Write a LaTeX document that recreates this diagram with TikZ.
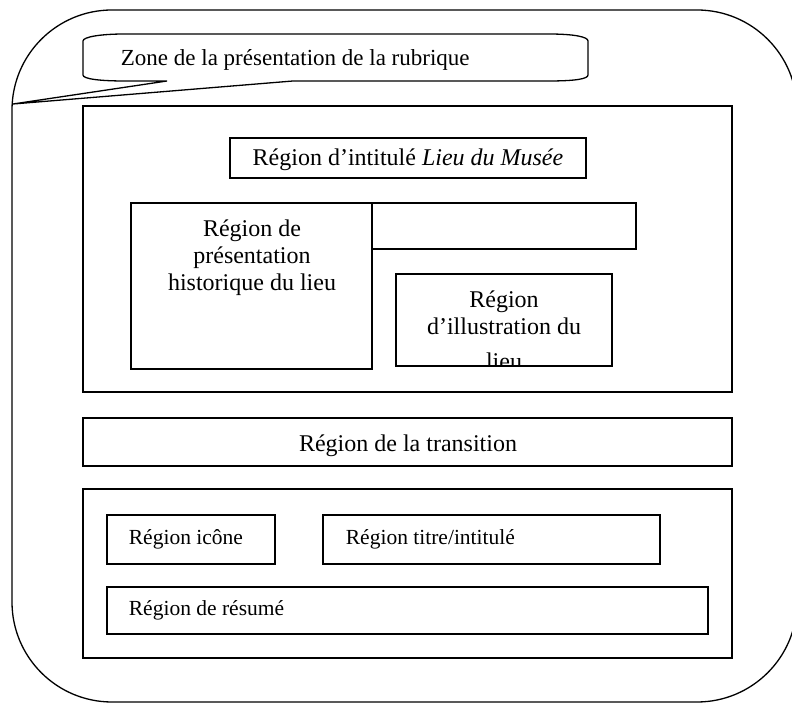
\documentclass[tikz,border=0pt]{standalone}
\usepackage{fontspec}
\setmainfont{Liberation Serif}
\usetikzlibrary{positioning}

\begin{document}
\begin{tikzpicture}[x=0.5pt, y=-0.5pt, line width=0.9pt,
    regionbox/.style={draw, line width=0.95pt},
    grandtexte/.style={inner sep=0pt, font=\fontsize{12}{13.5}\selectfont},
    petittexte/.style={inner sep=0pt, font=\fontsize{10.75}{12}\selectfont}]
  \useasboundingbox (0,0) rectangle (792,704);
  % cadre arrondi de la page
  \draw[line width=0.65pt, rounded corners=50pt] (12,10) rectangle (797,702);
  % bulle de la zone de presentation
  \draw[line width=0.65pt] (83,41) -- (83,75) .. controls (83,79) and (100,81) .. (125,81)
    -- (167,81) -- (13,104) -- (293,81) -- (548,81) .. controls (575,81) and (588,79) .. (588,75)
    -- (588,41) .. controls (588,37) and (575,34) .. (548,34) -- (125,34)
    .. controls (100,34) and (83,37) .. (83,41) -- cycle;
  \node[petittexte, font=\fontsize{11.5}{13}\selectfont, anchor=base west] (zone) at (120,66)
    {Zone de la présentation de la rubrique};

  % region du lieu
  \draw[regionbox] (83,106) rectangle (732,392);
  \draw[regionbox] (230,138) rectangle (586,178);
  \node[grandtexte, anchor=base] (intitule) at (408,166) {Région d’intitulé \textit{Lieu du Musée}};
  \draw[regionbox] (131,203) rectangle (372,369);
  \draw[regionbox] (372,203) rectangle (636,249);
  \node[grandtexte, anchor=base] (histo1) at (252,237) {Région de};
  \node[grandtexte, anchor=base] (histo2) at (252,264) {présentation};
  \node[grandtexte, anchor=base] (histo3) at (252,291) {historique du lieu};
  \begin{scope}
    \clip (396,274) rectangle (612,366);
    \node[grandtexte, anchor=base] (illus1) at (504,308) {Région};
    \node[grandtexte, anchor=base] (illus2) at (504,335) {d’illustration du};
    \node[grandtexte, anchor=base] (illus3) at (504,370) {lieu};
  \end{scope}
  \draw[regionbox] (396,274) rectangle (612,366);

  % transition
  \draw[regionbox] (83,418) rectangle (732,466);
  \node[grandtexte, anchor=base] (transition) at (408,452) {Région de la transition};

  % region du bas
  \draw[regionbox] (83,489) rectangle (732,658);
  \draw[regionbox] (107,515) rectangle (275,564);
  \node[petittexte, anchor=base west] (icone) at (128,545) {Région icône};
  \draw[regionbox] (323,515) rectangle (660,564);
  \node[petittexte, anchor=base west] (titre) at (345,545) {Région titre/intitulé};
  \draw[regionbox] (107,587) rectangle (708,634);
  \node[petittexte, anchor=base west] (resume) at (128,616) {Région de résumé};
\end{tikzpicture}
\end{document}
